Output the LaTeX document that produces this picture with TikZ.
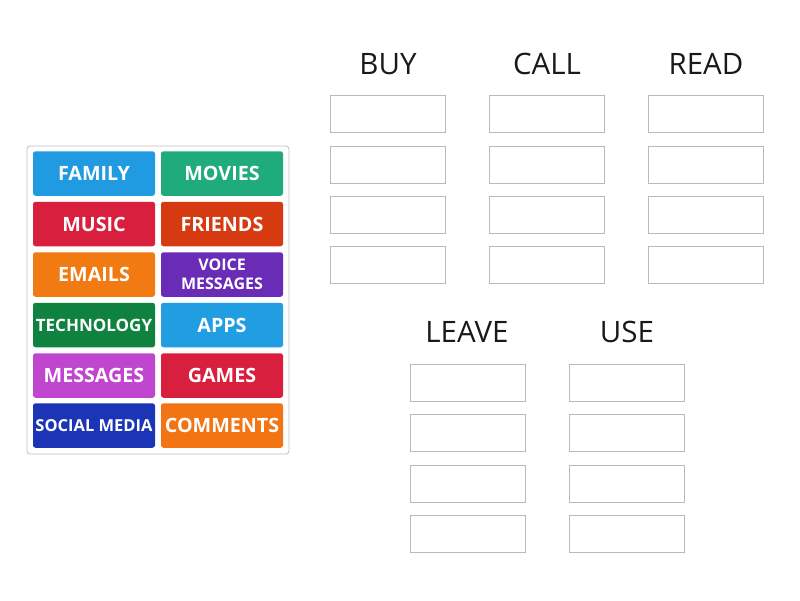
\documentclass[tikz,border=0pt]{standalone}
\usepackage{fontspec}
\setmainfont{Open Sans}
\begin{document}
\begin{tikzpicture}[x=1pt,y=-1pt,
  tile/.style={rounded corners=2.5pt, minimum width=122pt, minimum height=44.5pt, inner sep=0pt, text=white, font=\bfseries\fontsize{19.7}{20}\selectfont, align=center},
  slot/.style={draw=black!27, line width=0.8pt, minimum width=115pt, minimum height=37pt, inner sep=0pt},
  head/.style={font=\fontsize{29.5}{32}\selectfont, text=black!90, inner sep=0pt}]
\useasboundingbox (0,0) rectangle (800,600);
\definecolor{cFam}{HTML}{209BE2}
\definecolor{cMov}{HTML}{1FAB7C}
\definecolor{cMus}{HTML}{D81F3D}
\definecolor{cFri}{HTML}{D63A10}
\definecolor{cEma}{HTML}{F17A12}
\definecolor{cVoi}{HTML}{6A2BB6}
\definecolor{cTec}{HTML}{0F8240}
\definecolor{cApp}{HTML}{219DE2}
\definecolor{cMsg}{HTML}{C146CF}
\definecolor{cGam}{HTML}{D81F3D}
\definecolor{cSoc}{HTML}{1C35B6}
\definecolor{cCom}{HTML}{F27412}
% panel
\node[draw=black!25, line width=0.8pt, rounded corners=3pt, minimum width=262pt, minimum height=308pt, inner sep=0pt] (panel) at (158,300) {};
% tiles
\node[tile, fill=cFam] (t1) at (94,173.5) {FAMILY};
\node[tile, fill=cMov] (t2) at (222,173.5) {MOVIES};
\node[tile, fill=cMus] (t3) at (94,224) {MUSIC};
\node[tile, fill=cFri] (t4) at (222,224) {FRIENDS};
\node[tile, fill=cEma] (t5) at (94,274.5) {EMAILS};
\node[tile, fill=cVoi, font=\bfseries\fontsize{16}{19}\selectfont] (t6) at (222,274.5) {VOICE\\MESSAGES};
\node[tile, fill=cTec, font=\bfseries\fontsize{17}{18}\selectfont] (t7) at (94,325) {TECHNOLOGY};
\node[tile, fill=cApp] (t8) at (222,325) {APPS};
\node[tile, fill=cMsg] (t9) at (94,375.5) {MESSAGES};
\node[tile, fill=cGam] (t10) at (222,375.5) {GAMES};
\node[tile, fill=cSoc, font=\bfseries\fontsize{16.5}{18}\selectfont] (t11) at (94,425.5) {SOCIAL MEDIA};
\node[tile, fill=cCom] (t12) at (222,425.5) {COMMENTS};
% headings
\node[head] (hBuy) at (388,64) {BUY};
\node[head] (hCall) at (547,64) {CALL};
\node[head] (hRead) at (706,64) {READ};
\node[head] (hLeave) at (467,332) {LEAVE};
\node[head] (hUse) at (627,332) {USE};
% slots top
\foreach \cx/\nm in {388/b,547/c,706/r}{
  \foreach \cy/\i in {114/1,164.5/2,214.5/3,265/4}{
    \node[slot] (\nm\i) at (\cx,\cy) {};
  }
}
% slots bottom
\foreach \cx/\nm in {467.5/l,627/u}{
  \foreach \cy/\i in {382.5/1,432.5/2,483.5/3,533.5/4}{
    \node[slot] (\nm\i) at (\cx,\cy) {};
  }
}
\end{tikzpicture}
\end{document}
